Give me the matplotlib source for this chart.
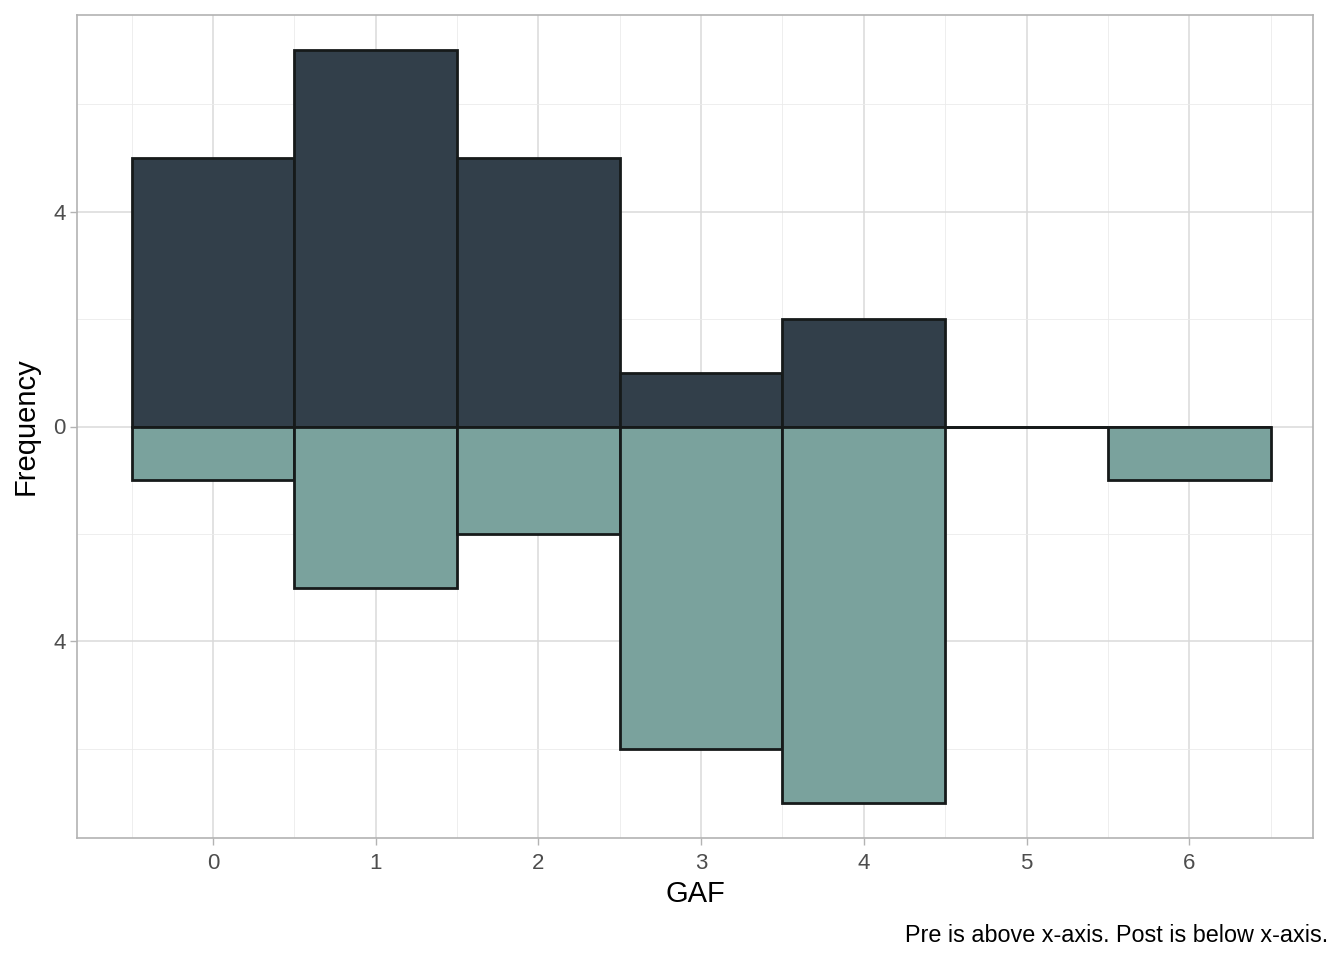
import matplotlib
matplotlib.use("Agg")
import matplotlib.pyplot as plt
import numpy as np

plt.rcParams['font.family'] = ['Liberation Sans', 'DejaVu Sans']

gaf = [0, 1, 2, 3, 4, 5, 6]
pre_counts = [5, 7, 5, 1, 2, 0, 0]
post_counts = [1, 3, 2, 6, 7, 0, 1]
y_ticks = [-4, 0, 4]
y_ticklabels = ["4", "0", "4"]

dark = "#323F4A"
light = "#7AA29D"
edge = "#161A1A"

fig = plt.figure(figsize=(13.44, 9.6), dpi=100)
ax = fig.add_axes([77/1344, 1 - 838/960, (1313-77)/1344, (838-15)/960])

ax.bar(gaf, pre_counts, width=1.0, color=dark, edgecolor=edge, linewidth=2, zorder=3)
ax.bar(gaf, [-v for v in post_counts], width=1.0, color=light, edgecolor=edge, linewidth=2, zorder=3)

ax.set_xlim(-0.835, 6.76)
ax.set_ylim(-7.66, 7.66)
ax.set_xticks(gaf)
ax.set_xticks([g - 0.5 for g in gaf] + [6.5], minor=True)
ax.set_yticks(y_ticks)
ax.set_yticklabels(y_ticklabels)
ax.set_yticks([-6, -2, 2, 6], minor=True)

ax.grid(True, which='major', color='#DADADA', linewidth=1.1, zorder=0)
ax.grid(True, which='minor', color='#EBEBEB', linewidth=0.6, zorder=0)
ax.set_axisbelow(True)

for s in ax.spines.values():
    s.set_color('#B3B3B3')
    s.set_linewidth(1.2)

ax.tick_params(axis='both', which='major', length=5, width=1, color='#B3B3B3',
               labelcolor='#4D4D4D', labelsize=16, pad=3)
ax.tick_params(axis='x', which='major', pad=6)
ax.tick_params(axis='both', which='minor', length=0)

ax.set_xlabel("GAF", fontsize=21, color='black', labelpad=4)
ax.set_ylabel("Frequency", fontsize=21, color='black', labelpad=10)

fig.text(1328/1344, 1 - 935/960, "Pre is above x-axis. Post is below x-axis.",
         ha='right', va='center', fontsize=16.8, color='black')

fig.savefig("out.png", dpi=100)
